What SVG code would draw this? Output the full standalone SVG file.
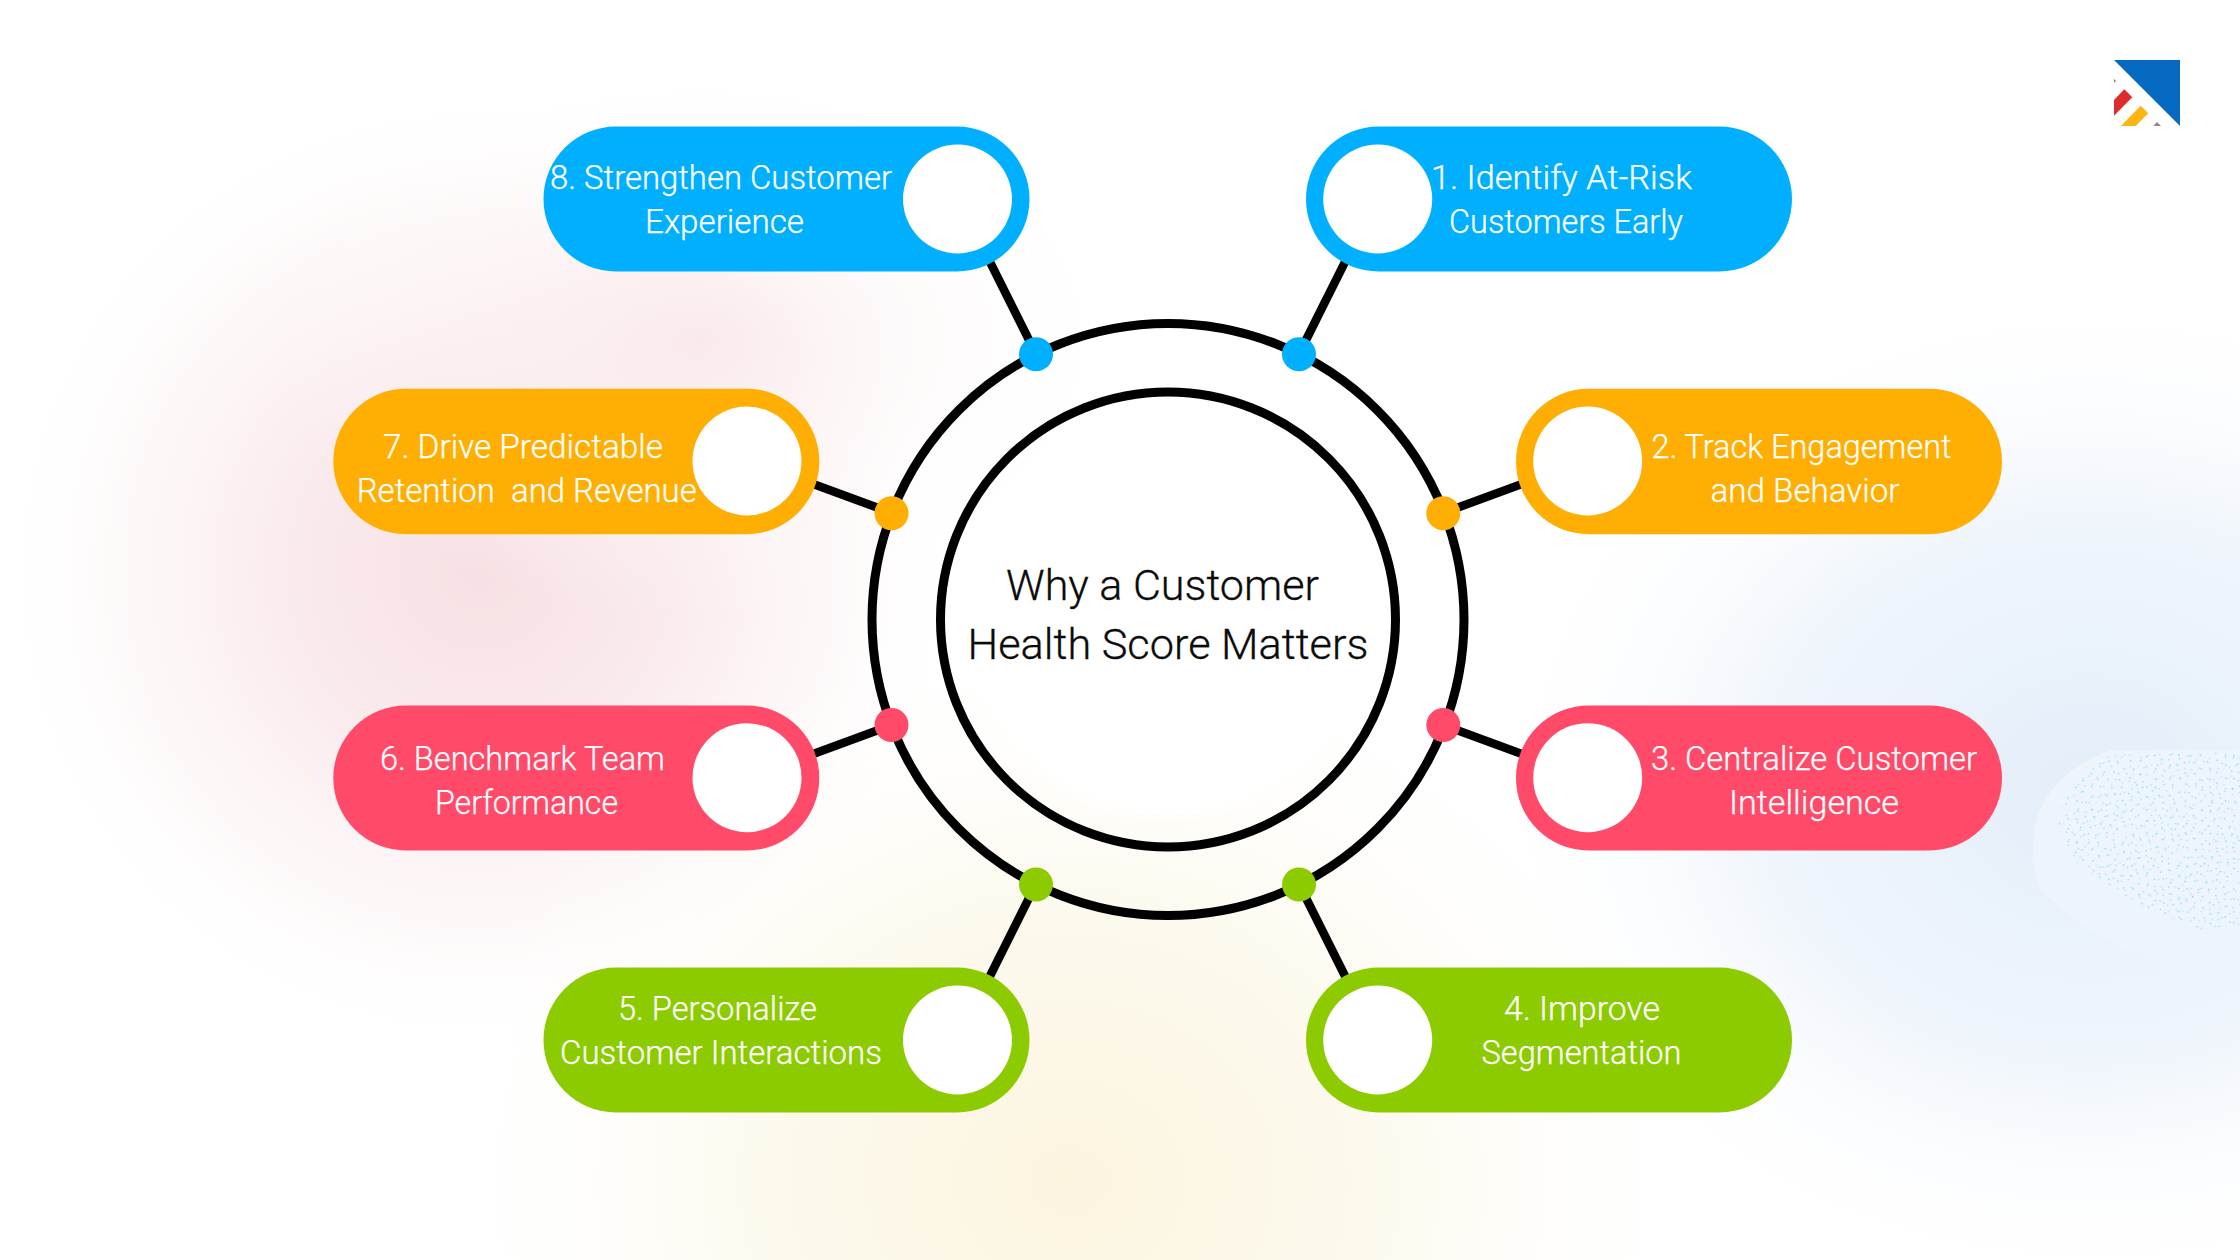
<svg xmlns="http://www.w3.org/2000/svg" width="2240" height="1260" viewBox="0 0 2240 1260">
<style>
.lbl{font-family:"Roboto","Liberation Sans",sans-serif;font-size:32.5px;font-weight:300;fill:#fff;white-space:pre;stroke:#fff;stroke-width:.25px}
.ttl{font-family:"Roboto","Liberation Sans",sans-serif;font-size:42.5px;font-weight:300;fill:#0b0b0b;stroke:#0b0b0b;stroke-width:.3px}
.ring{fill:none;stroke:#000;stroke-width:9}
.link{stroke:#000;stroke-width:8.5;fill:none}
.hole{fill:#fff}
.blue{fill:#00B0FF}.orange{fill:#FFAE03}.pink{fill:#FF4A69}.green{fill:#8CCB00}
</style>
<defs>
<radialGradient id="gPink"><stop offset="0" stop-color="#F7E0E3"/><stop offset=".4" stop-color="#F9E7E9" stop-opacity=".85"/><stop offset=".75" stop-color="#FCF2F3" stop-opacity=".5"/><stop offset="1" stop-color="#fff" stop-opacity="0"/></radialGradient>
<radialGradient id="gPink2"><stop offset="0" stop-color="#F9E6E8" stop-opacity=".8"/><stop offset="1" stop-color="#fff" stop-opacity="0"/></radialGradient>
<radialGradient id="gYellow"><stop offset="0" stop-color="#FBF4DF"/><stop offset=".5" stop-color="#FCF8EA" stop-opacity=".8"/><stop offset="1" stop-color="#fff" stop-opacity="0"/></radialGradient>
<radialGradient id="gBlue"><stop offset="0" stop-color="#E3EEF9"/><stop offset=".55" stop-color="#ECF3FB" stop-opacity=".8"/><stop offset="1" stop-color="#fff" stop-opacity="0"/></radialGradient>
<filter id="soft" x="-20%" y="-20%" width="140%" height="140%"><feGaussianBlur stdDeviation="6"/></filter>
<clipPath id="speckArea"><path d="M2103 755L2063 800L2058 830L2073 860L2100 880L2140 905L2200 930L2240 925V752Z"/></clipPath>
<path id="speckDots" fill="#6FD5FF" d="M3 5h1.3v1.3H3zM11 2h1.3v1.3H11zM18 8h1.3v1.3H18zM27 4h1.3v1.3H27zM35 9h1.3v1.3H35zM44 3h1.3v1.3H44zM53 7h1.3v1.3H53zM7 14h1.3v1.3H7zM15 17h1.3v1.3H15zM24 13h1.3v1.3H24zM31 19h1.3v1.3H31zM40 15h1.3v1.3H40zM49 18h1.3v1.3H49zM57 13h1.3v1.3H57zM2 24h1.3v1.3H2zM12 26h1.3v1.3H12zM20 23h1.3v1.3H20zM28 28h1.3v1.3H28zM37 24h1.3v1.3H37zM46 27h1.3v1.3H46zM54 23h1.3v1.3H54zM6 34h1.3v1.3H6zM16 36h1.3v1.3H16zM23 33h1.3v1.3H23zM33 37h1.3v1.3H33zM42 34h1.3v1.3H42zM51 37h1.3v1.3H51zM58 33h1.3v1.3H58zM4 45h1.3v1.3H4zM13 43h1.3v1.3H13zM21 47h1.3v1.3H21zM30 44h1.3v1.3H30zM38 47h1.3v1.3H38zM47 43h1.3v1.3H47zM55 46h1.3v1.3H55zM9 54h1.3v1.3H9zM18 56h1.3v1.3H18zM26 53h1.3v1.3H26zM35 57h1.3v1.3H35zM44 54h1.3v1.3H44zM52 56h1.3v1.3H52z"/>
<pattern id="speck" width="60" height="60" patternUnits="userSpaceOnUse" patternTransform="rotate(23)"><use href="#speckDots"/></pattern>
<pattern id="speck2" width="47" height="53" patternUnits="userSpaceOnUse" patternTransform="rotate(-38) translate(9 4)"><use href="#speckDots" transform="scale(.82)"/></pattern>
</defs>
<g id="background">
<rect width="2240" height="1260" fill="#fff"/>
<ellipse cx="480" cy="570" rx="480" ry="480" fill="url(#gPink)"/>
<ellipse cx="700" cy="340" rx="430" ry="280" fill="url(#gPink2)"/>
<ellipse cx="1070" cy="1180" rx="640" ry="560" fill="url(#gYellow)"/>
<ellipse cx="2090" cy="790" rx="600" ry="500" fill="url(#gBlue)"/>
<circle cx="1168" cy="615" r="202" fill="#fff" filter="url(#soft)"/>
<path d="M2240 750H2110C2060 770 2033 800 2033 850C2033 880 2040 895 2052 900C2090 935 2150 972 2240 975Z" fill="#EDF4FB"/>
<g clip-path="url(#speckArea)"><rect x="2040" y="745" width="200" height="190" fill="url(#speck)"/><rect x="2040" y="745" width="200" height="190" fill="url(#speck2)"/></g>
</g>
<g id="connectors">
<path class="link" d="M1299 354L1352 248"/>
<path class="link" d="M1443 513L1530 481"/>
<path class="link" d="M1443 725L1530 757"/>
<path class="link" d="M1299 884L1352 990"/>
<path class="link" d="M1036 884L983 990"/>
<path class="link" d="M892 725L805 757"/>
<path class="link" d="M892 513L805 481"/>
<path class="link" d="M1036 354L983 248"/>
</g>
<g id="center">
<circle class="ring" cx="1168" cy="619.5" r="296"/>
<circle class="ring" cx="1168" cy="619.5" r="227.5"/>
<text class="ttl" x="1006" y="600" textLength="313" lengthAdjust="spacingAndGlyphs">Why a Customer</text>
<text class="ttl" x="967.5" y="659" textLength="401" lengthAdjust="spacingAndGlyphs">Health Score Matters</text>
</g>
<g id="dots">
<circle class="blue" cx="1299" cy="354.3" r="17"/>
<circle class="blue" cx="1036" cy="354.3" r="17"/>
<circle class="orange" cx="1443.3" cy="513.3" r="17"/>
<circle class="orange" cx="891.5" cy="513.3" r="17"/>
<circle class="pink" cx="1443.3" cy="725" r="17"/>
<circle class="pink" cx="891.5" cy="725" r="17"/>
<circle class="green" cx="1299" cy="884.5" r="17"/>
<circle class="green" cx="1036" cy="884.5" r="17"/>
</g>
<g id="node-1"><rect class="blue" x="1306" y="126.5" width="486" height="145" rx="72.5"/><circle class="hole" cx="1377.7" cy="199" r="54.5"/>
<text class="lbl" x="1431" y="188.7" textLength="261" lengthAdjust="spacingAndGlyphs">1. Identify At-Risk</text>
<text class="lbl" x="1449" y="232.5" textLength="234" lengthAdjust="spacingAndGlyphs">Customers Early</text></g>
<g id="node-2"><rect class="orange" x="1516" y="388.7" width="486" height="145.5" rx="72.75"/><circle class="hole" cx="1587.7" cy="461" r="54.5"/>
<text class="lbl" x="1651.5" y="457.7" textLength="300" lengthAdjust="spacingAndGlyphs">2. Track Engagement</text>
<text class="lbl" x="1710.5" y="501.7" textLength="189" lengthAdjust="spacingAndGlyphs">and Behavior</text></g>
<g id="node-3"><rect class="pink" x="1516" y="705.5" width="486" height="145" rx="72.5"/><circle class="hole" cx="1587.7" cy="777.7" r="54.5"/>
<text class="lbl" x="1651" y="769.5" textLength="326" lengthAdjust="spacingAndGlyphs">3. Centralize Customer</text>
<text class="lbl" x="1729" y="813.5" textLength="170" lengthAdjust="spacingAndGlyphs">Intelligence</text></g>
<g id="node-4"><rect class="green" x="1306" y="967.5" width="486" height="145" rx="72.5"/><circle class="hole" cx="1377.7" cy="1040" r="54.5"/>
<text class="lbl" x="1504" y="1019.5" textLength="156" lengthAdjust="spacingAndGlyphs">4. Improve</text>
<text class="lbl" x="1481.5" y="1063.5" textLength="200" lengthAdjust="spacingAndGlyphs">Segmentation</text></g>
<g id="node-5"><rect class="green" x="543.5" y="967.5" width="486" height="145" rx="72.5"/><circle class="hole" cx="957.5" cy="1040" r="54.5"/>
<text class="lbl" x="618" y="1019.5" textLength="199" lengthAdjust="spacingAndGlyphs">5. Personalize</text>
<text class="lbl" x="560" y="1063.5" textLength="322" lengthAdjust="spacingAndGlyphs">Customer Interactions</text></g>
<g id="node-6"><rect class="pink" x="333.3" y="705.5" width="486" height="145" rx="72.5"/><circle class="hole" cx="747" cy="777.7" r="54.5"/>
<text class="lbl" x="380" y="769.5" textLength="285" lengthAdjust="spacingAndGlyphs">6. Benchmark Team</text>
<text class="lbl" x="435" y="813.5" textLength="183" lengthAdjust="spacingAndGlyphs">Performance</text></g>
<g id="node-7"><rect class="orange" x="333.3" y="388.7" width="486" height="145.5" rx="72.75"/><circle class="hole" cx="747" cy="461" r="54.5"/>
<text class="lbl" x="383" y="457.7" textLength="280" lengthAdjust="spacingAndGlyphs">7. Drive Predictable</text>
<text class="lbl" x="356.7" y="501.7" textLength="340" lengthAdjust="spacingAndGlyphs">Retention  and Revenue</text></g>
<g id="node-8"><rect class="blue" x="543.5" y="126.5" width="486" height="145" rx="72.5"/><circle class="hole" cx="957.5" cy="199" r="54.5"/>
<text class="lbl" x="550" y="188.7" textLength="342" lengthAdjust="spacingAndGlyphs">8. Strengthen Customer</text>
<text class="lbl" x="645" y="232.5" textLength="159" lengthAdjust="spacingAndGlyphs">Experience</text></g>
<g id="logo">
<path fill="#0569BF" d="M2114 60H2180V126Z"/>
<path fill="#DE2C2C" d="M2114 100L2124.3 89.3L2132.3 97.3L2114 115.7Z"/>
<path fill="#FDB515" d="M2120.7 126L2140.7 105.7L2148.3 113.3L2135.7 126Z"/>
<path fill="#8A8A8A" d="M2153.3 126L2157 122L2161 126ZM2114 78.7L2116 81L2114 83Z"/>
</g>
</svg>
